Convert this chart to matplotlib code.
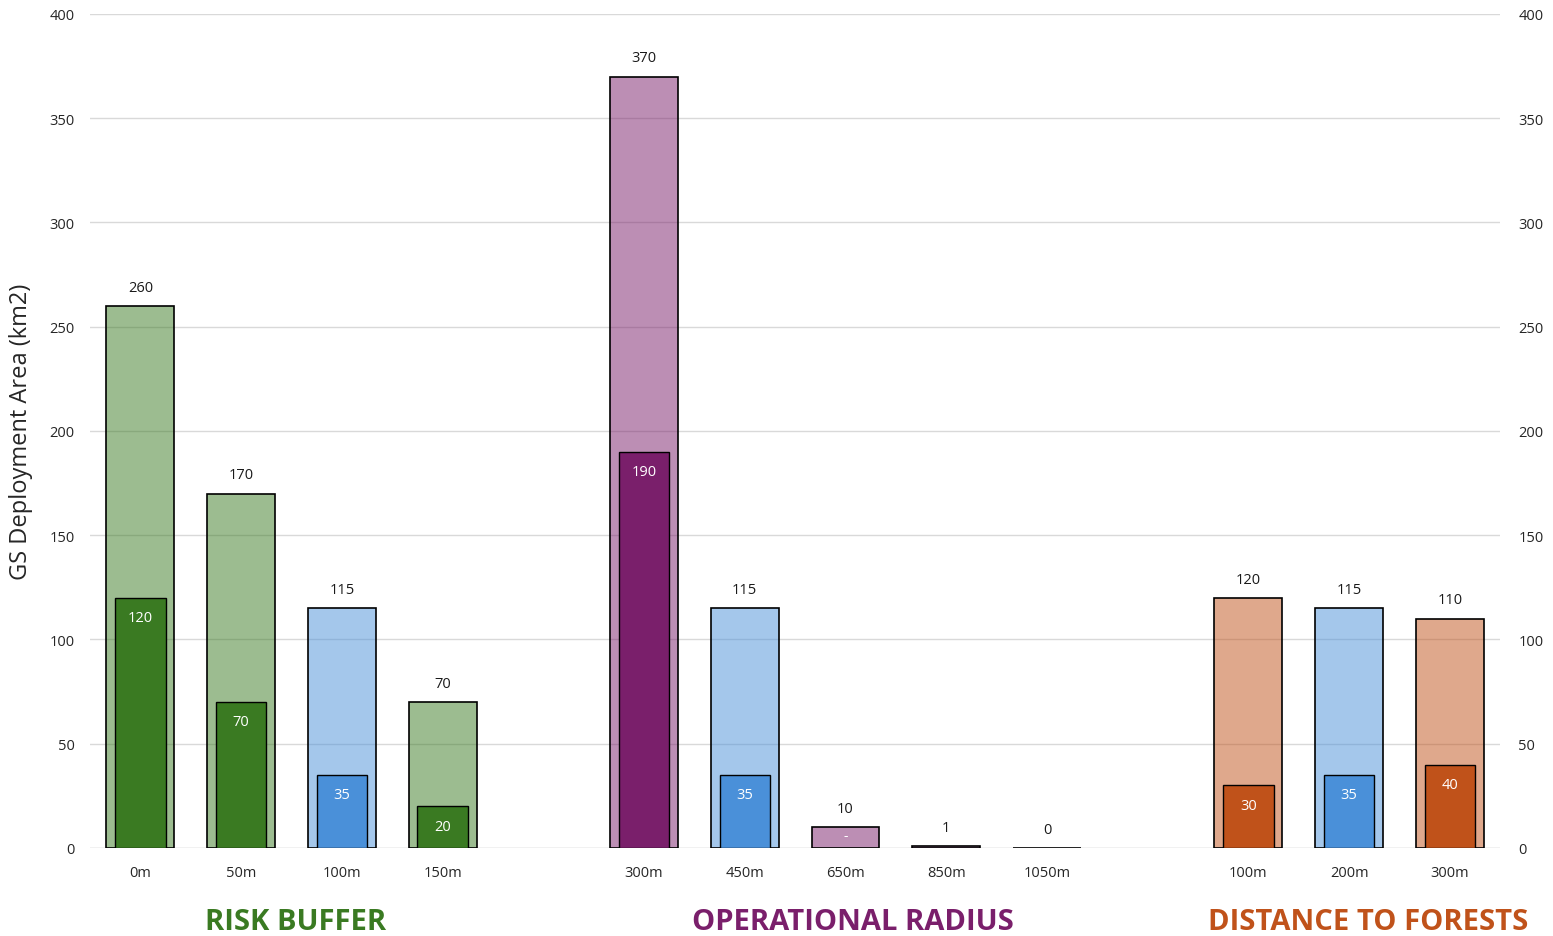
import matplotlib.pyplot as plt
from matplotlib.ticker import MultipleLocator

plt.rcParams['font.family'] = ['Open Sans', 'DejaVu Sans']

# data
categories = ['0m', '50m', '100m', '150m',
              '300m', '450m', '650m', '850m', '1050m',
              '100m', '200m', '300m']
slots = [0, 1, 2, 3, 5, 6, 7, 8, 9, 11, 12, 13]
outer_vals = [260, 170, 115, 70, 370, 115, 10, 1, 0, 120, 115, 110]
inner_vals = [120, 70, 35, 20, 190, 35, 0, None, None, 30, 35, 40]
bar_kind = ['risk', 'risk', 'base', 'risk',
            'radius', 'base', 'radius', 'radius', 'radius',
            'forest', 'base', 'forest']
groups = ['RISK BUFFER', 'OPERATIONAL RADIUS', 'DISTANCE TO FORESTS']
group_kind = ['risk', 'radius', 'forest']
group_x = [1.54, 7.07, 12.19]

colors = {'risk': '#3a7a22', 'radius': '#7a1f6b',
          'forest': '#c0521a', 'base': '#4a90d9'}

fig = plt.figure(figsize=(15.53, 9.37), dpi=100)
ax = fig.add_axes([0.058, 0.094, 0.908, 0.890])

for x, v, iv, k in zip(slots, outer_vals, inner_vals, bar_kind):
    c = colors[k]
    ax.bar(x, v, width=0.675, color=c, alpha=0.5, zorder=2)
    ax.bar(x, v, width=0.675, facecolor='none', edgecolor='black',
           linewidth=1.2, zorder=3)
    ax.annotate(str(v), (x, v), xytext=(0, 8), textcoords='offset points',
                ha='center', va='bottom', fontsize=10.5, color='#1a1a1a')
    if iv is None:
        continue
    if iv > 0:
        ax.bar(x, iv, width=0.5, color=c, edgecolor='black',
               linewidth=1.0, zorder=4)
        ax.annotate(str(iv), (x, iv), xytext=(0, -9), textcoords='offset points',
                    ha='center', va='top', fontsize=10.5, color='white', zorder=5)
    else:
        ax.annotate('-', (x, v), xytext=(0, -1), textcoords='offset points',
                    ha='center', va='top', fontsize=10, color='white', zorder=5)

ax.set_xlim(-0.5, 13.5)
ax.set_ylim(0, 400)
ax.yaxis.set_major_locator(MultipleLocator(50))
ax.grid(axis='y', color='#d9d9d9', linewidth=1, zorder=0)
ax.set_axisbelow(True)
for s in ax.spines.values():
    s.set_visible(False)
ax.axhline(0, color='#d9d9d9', linewidth=1, zorder=1)

ax.set_xticks(slots)
ax.set_xticklabels(categories, fontsize=10.5, color='#262626')
ax.tick_params(axis='x', length=0, pad=12)
ax.tick_params(axis='y', length=0, pad=11, labelsize=10.5, labelcolor='#262626')
ax.set_ylabel('GS Deployment Area (km2)', fontsize=17, color='#262626', labelpad=12)

ax2 = ax.twinx()
ax2.set_ylim(ax.get_ylim())
ax2.yaxis.set_major_locator(MultipleLocator(50))
ax2.tick_params(axis='y', length=0, pad=13, labelsize=10.5, labelcolor='#262626')
for s in ax2.spines.values():
    s.set_visible(False)

for g, k, gx in zip(groups, group_kind, group_x):
    ax.text(gx, -35.5, g, ha='center', va='center', fontsize=21,
            fontweight='bold', color=colors[k], transform=ax.transData)

fig.savefig('out.png', dpi=100)
